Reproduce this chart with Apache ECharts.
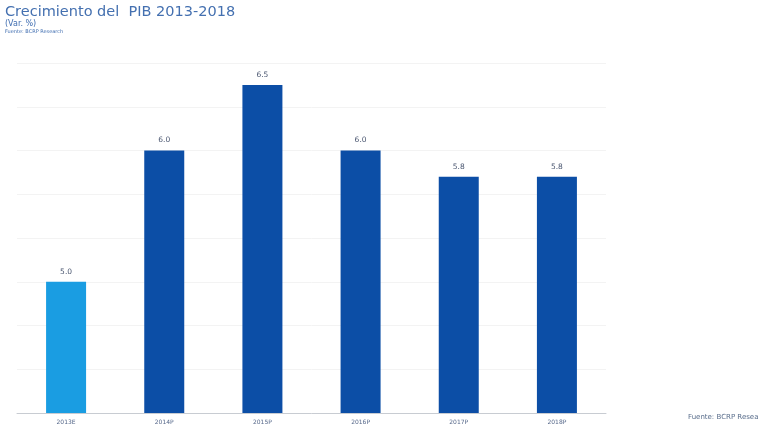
<!DOCTYPE html>
<html>
<head>
<meta charset="utf-8">
<script src="https://cdn.jsdelivr.net/npm/echarts@6/dist/echarts.min.js"></script>
<style>
  html, body { margin: 0; padding: 0; background: #ffffff; overflow: hidden; }
  #chart { width: 759px; height: 435px; }
</style>
</head>
<body>
<div id="chart"></div>
<script>
// Crecimiento del PIB, variación porcentual anual
const categories = ['2013E', '2014P', '2015P', '2016P', '2017P', '2018P'];
const growth = [5.0, 6.0, 6.5, 6.0, 5.8, 5.8];
const barColors = ['#1a9de2', '#0c4ea6', '#0c4ea6', '#0c4ea6', '#0c4ea6', '#0c4ea6'];

const chart = echarts.init(document.getElementById('chart'), null, { renderer: 'canvas' });

chart.setOption({
  animation: false,
  backgroundColor: '#ffffff',
  title: [
    {
      text: 'Crecimiento del  PIB 2013-2018',
      left: 0, top: 0,
      textStyle: { fontFamily: 'DejaVu Sans', fontSize: 14.5, fontWeight: 'normal', color: '#4470b0' }
    },
    {
      text: '(Var. %)',
      left: 0, top: 15,
      textStyle: { fontFamily: 'DejaVu Sans', fontSize: 8, fontWeight: 'normal', color: '#3f6db0' }
    },
    {
      text: 'Fuente: BCRP Research',
      left: 0, top: 24,
      textStyle: { fontFamily: 'DejaVu Sans', fontSize: 5, fontWeight: 'normal', color: '#3f6db0' }
    },
    {
      text: 'Fuente: BCRP Research',
      left: 683, top: 409,
      textStyle: { fontFamily: 'DejaVu Sans', fontSize: 7, fontWeight: 'normal', color: '#5a6e8c' }
    }
  ],
  grid: { left: 17, right: 153, top: 63, bottom: 22, containLabel: false },
  xAxis: {
    type: 'category',
    data: categories,
    axisLine: { show: true, lineStyle: { color: '#c8ccd2', width: 1 } },
    axisTick: { show: false },
    axisLabel: { fontFamily: 'DejaVu Sans', fontSize: 6, color: '#56688a', margin: 6 }
  },
  yAxis: {
    type: 'value',
    min: 4,
    max: 20 / 3,
    interval: 1 / 3,
    axisLine: { show: false },
    axisTick: { show: false },
    axisLabel: { show: false },
    splitLine: { show: true, lineStyle: { color: '#f3f3f3', width: 1 } }
  },
  series: [{
    type: 'bar',
    barWidth: 40,
    data: growth.map((v, i) => ({ value: v, itemStyle: { color: barColors[i] } })),
    label: {
      show: true,
      position: 'top',
      distance: 6,
      fontFamily: 'DejaVu Sans',
      fontSize: 7.5,
      color: '#4a5670',
      formatter: p => p.value.toFixed(1)
    }
  }]
});
</script>
</body>
</html>
